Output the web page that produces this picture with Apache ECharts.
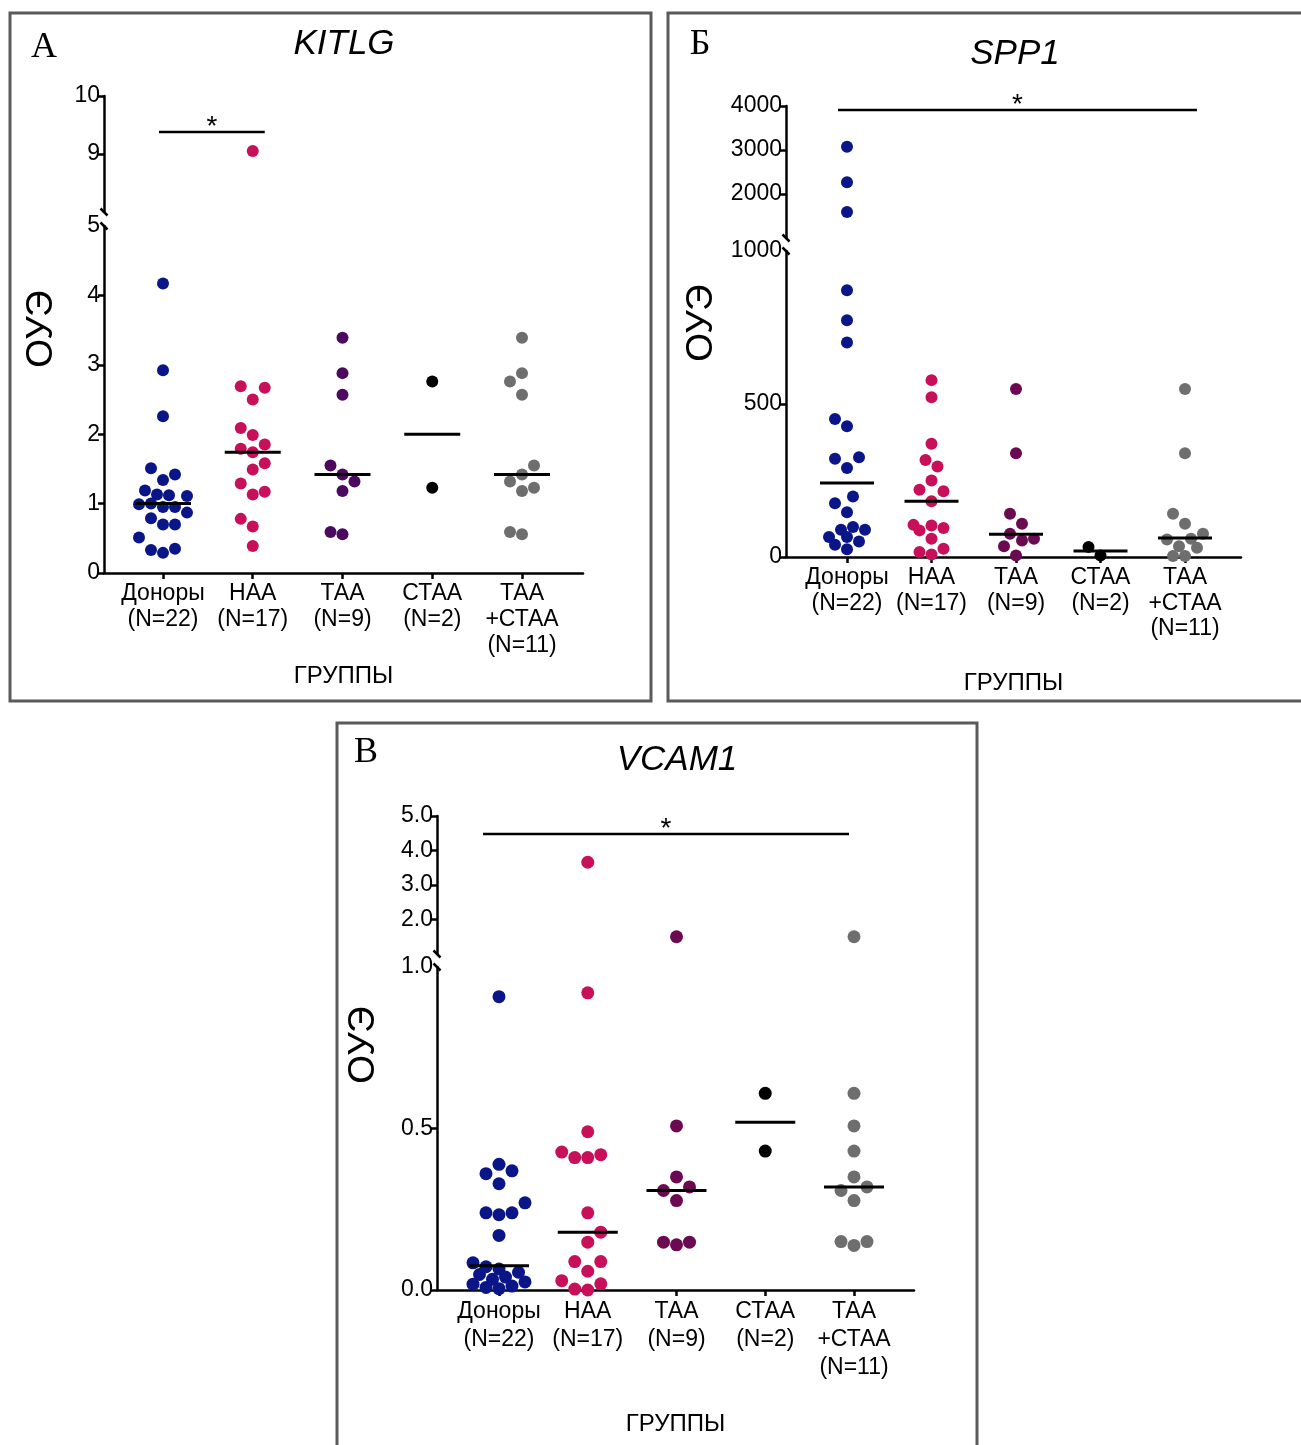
<!DOCTYPE html>
<html><head><meta charset="utf-8">
<script src="https://cdn.jsdelivr.net/npm/echarts@6/dist/echarts.min.js"></script>
<style>html,body{margin:0;padding:0;background:#fff}#c{width:1301px;height:1445px}</style>
</head><body><div id="c"></div>
<script>
// ---------- DATA ----------
const categories = ['Доноры\n(N=22)', 'НАА\n(N=17)', 'ТАА\n(N=9)', 'СТАА\n(N=2)', 'ТАА\n+СТАА\n(N=11)'];

// KITLG
const kitlgDonors = [4.17, 2.92, 2.26, 1.51, 1.42, 1.34, 1.12, 1.11, 1.19, 1.13, 0.95, 0.99, 0.95, 1.0, 0.87, 0.79, 0.70, 0.70, 0.51, 0.29, 0.35, 0.33];
const kitlgNAA = [9.05, 2.67, 2.69, 2.50, 2.09, 1.99, 1.85, 1.74, 1.79, 1.49, 1.58, 1.29, 1.13, 1.17, 0.67, 0.78, 0.39];
const kitlgTAA = [3.39, 2.88, 2.57, 1.42, 1.55, 1.32, 1.18, 0.56, 0.59];
const kitlgSTAA = [2.76, 1.23];
const kitlgTAASTAA = [3.39, 2.88, 2.76, 2.57, 1.55, 1.42, 1.32, 1.18, 1.23, 0.56, 0.59];
const kitlgMedians = [1.0, 1.74, 1.42, 2.0, 1.42];
const kitlgLowerTicks = [0, 1, 2, 3, 4, 5];
const kitlgUpperTicks = [9, 10];
const kitlgSig = [0, 1, 9.38];

// SPP1
const spp1Donors = [3075, 2266, 1591, 872, 774, 701, 451, 427, 326, 321, 291, 198, 176, 146, 98, 89, 89, 65, 65, 51, 40, 25];
const spp1NAA = [578, 522, 370, 317, 296, 250, 220, 215, 182, 103, 95, 105, 87, 60, 8, 16, 27];
const spp1TAA = [549, 339, 109, 141, 60, 76, 54, 35, 5];
const spp1STAA = [5, 33];
const spp1TAASTAA = [549, 339, 141, 109, 76, 57, 60, 35, 30, 3, 3];
const spp1Medians = [242, 182, 74, 20, 62];
const spp1LowerTicks = [0, 500, 1000];
const spp1UpperTicks = [2000, 3000, 4000];
const spp1Sig = [0, 4, 3910];

// VCAM1
const vcamDonors = [0.908, 0.389, 0.369, 0.360, 0.329, 0.270, 0.233, 0.239, 0.239, 0.169, 0.084, 0.072, 0.065, 0.055, 0.048, 0.040, 0.033, 0.025, 0.018, 0.012, 0.008, 0.004];
const vcamNAA = [3.66, 0.92, 0.49, 0.427, 0.41, 0.41, 0.419, 0.239, 0.148, 0.179, 0.058, 0.088, 0.088, 0.0, 0.029, 0.003, 0.019];
const vcamTAA = [1.50, 0.508, 0.35, 0.319, 0.308, 0.277, 0.14, 0.148, 0.148];
const vcamSTAA = [0.609, 0.43];
const vcamTAASTAA = [1.50, 0.609, 0.508, 0.43, 0.35, 0.319, 0.308, 0.277, 0.138, 0.15, 0.15];
const vcamMedians = [0.075, 0.179, 0.308, 0.519, 0.319];
const vcamLowerTicks = [0, 0.5, 1.0];
const vcamUpperTicks = [2, 3, 4, 5];
const vcamSig = [0, 4, 4.48];

// ---------- LAYOUT / STYLE ----------
const FONT = '"Liberation Sans", Arial, sans-serif';
const SERIF = '"Liberation Serif", "Times New Roman", serif';
const BLUE = '#0a1587', RED = '#c8105a', GRAY = '#6e6e6e', BLACK = '#000000';

const panels = [
  { title: 'KITLG', letter: 'А', frame: [10, 13, 641, 688], titlePos: [344, 44], letterPos: [44, 48], yNamePos: [42, 329],
    axisX: 104, axisRight: 583, catX0: 163, catStep: 89.75,
    upper: { top: 96, bottom: 212, min: 8, max: 10 }, lower: { top: 226, bottom: 573, min: 0, max: 5 },
    groups: [kitlgDonors, kitlgNAA, kitlgTAA, kitlgSTAA, kitlgTAASTAA], medians: kitlgMedians,
    lowerTicks: kitlgLowerTicks, upperTicks: kitlgUpperTicks, decimals: 0, sig: kitlgSig, sigExt: [-4, 12],
    colors: [BLUE, RED, '#4b0a5e', BLACK, GRAY], dot: 12, spread: 24, medHalf: 28, catLH: 26, catMargin: 8, nameGap: 91 },
  { title: 'SPP1', letter: 'Б', frame: [668, 13, 660, 688], titlePos: [1015, 54], letterPos: [700, 45], yNamePos: [702, 323],
    axisX: 786, axisRight: 1241, catX0: 847, catStep: 84.5,
    upper: { top: 106, bottom: 238, min: 1000, max: 4000 }, lower: { top: 251, bottom: 557, min: 0, max: 1000 },
    groups: [spp1Donors, spp1NAA, spp1TAA, spp1STAA, spp1TAASTAA], medians: spp1Medians,
    lowerTicks: spp1LowerTicks, upperTicks: spp1UpperTicks, decimals: 0, sig: spp1Sig, sigExt: [-9, 12],
    colors: [BLUE, RED, '#6b0a50', BLACK, GRAY], dot: 12, spread: 23, medHalf: 27, catLH: 25.5, catMargin: 8, nameGap: 114 },
  { title: 'VCAM1', letter: 'В', frame: [337, 723, 640, 760], titlePos: [677, 760], letterPos: [366, 753], yNamePos: [364, 1045],
    axisX: 437, axisRight: 914, catX0: 499, catStep: 88.75,
    upper: { top: 816, bottom: 954, min: 1, max: 5 }, lower: { top: 967, bottom: 1290, min: 0, max: 1 },
    groups: [vcamDonors, vcamNAA, vcamTAA, vcamSTAA, vcamTAASTAA], medians: vcamMedians,
    lowerTicks: vcamLowerTicks, upperTicks: vcamUpperTicks, decimals: 1, sig: vcamSig, sigExt: [-16, -5],
    colors: [BLUE, RED, '#6b0a50', BLACK, GRAY], dot: 13, spread: 26, medHalf: 30, catLH: 28, catMargin: 8, nameGap: 122 }
];

function toPy(P, v) {
  const s = v > P.lower.max ? P.upper : P.lower;
  return s.bottom - (v - s.min) / (s.max - s.min) * (s.bottom - s.top);
}

// deterministic beeswarm with an elliptical exclusion zone and a limited column width
function swarm(P, values, d) {
  const idx = values.map((v, i) => i).sort((a, b) => values[a] - values[b]);
  const placed = [];
  const off = new Array(values.length).fill(0);
  const ax = d * 0.97, ay = d * 1.35;
  const step = d / 2;
  const kmax = Math.floor(P.spread / step);
  let lastSide = 1;
  for (const i of idx) {
    const y = toPy(P, values[i]);
    let best = null, fallback = 0, fallbackScore = -1;
    for (let k = 0; k <= kmax && best === null; k++) {
      const cands = k === 0 ? [0] : [-lastSide * k * step, lastSide * k * step];
      for (const x of cands) {
        let m = Infinity;
        placed.forEach(p => { m = Math.min(m, ((p.x - x) / ax) ** 2 + ((p.y - y) / ay) ** 2); });
        if (m >= 1) { best = x; break; }
        if (m > fallbackScore) { fallbackScore = m; fallback = x; }
      }
    }
    if (best === null) best = fallback;
    if (best !== 0) lastSide = Math.sign(best);
    off[i] = best;
    placed.push({ x: best, y: y });
  }
  return off;
}

const grids = [], xAxes = [], yAxes = [], series = [], graphics = [];
const axisLineStyle = { color: '#000', width: 2.5 };

panels.forEach((P, pi) => {
  const gU = pi * 2, gL = pi * 2 + 1;
  const xmin = (P.axisX - P.catX0) / P.catStep;
  const xmax = (P.axisRight - P.catX0) / P.catStep;
  [P.upper, P.lower].forEach((seg, si) => {
    const isLower = si === 1;
    grids.push({ left: P.axisX, top: seg.top, width: P.axisRight - P.axisX, height: seg.bottom - seg.top,
      containLabel: false, outerBoundsMode: 'none' });
    const gi = grids.length - 1;
    xAxes.push({
      type: 'value', gridIndex: gi, min: xmin, max: xmax, show: isLower,
      axisLine: { show: true, onZero: false, lineStyle: axisLineStyle },
      axisTick: { show: true, customValues: [0, 1, 2, 3, 4], length: 6, lineStyle: axisLineStyle },
      axisLabel: { show: true, customValues: [0, 1, 2, 3, 4], formatter: v => categories[Math.round(v)],
        color: '#000', fontSize: 23, lineHeight: P.catLH, fontFamily: FONT, margin: P.catMargin },
      splitLine: { show: false },
      name: isLower ? 'ГРУППЫ' : '', nameLocation: 'middle', nameGap: P.nameGap,
      nameTextStyle: { color: '#000', fontSize: 24, fontFamily: FONT }
    });
    const ticks = isLower ? P.lowerTicks : P.upperTicks;
    yAxes.push({
      type: 'value', gridIndex: gi, min: seg.min, max: seg.max,
      axisLine: { show: true, onZero: false, lineStyle: axisLineStyle },
      axisTick: { show: true, customValues: isLower ? ticks.slice(0, -1) : ticks, length: 6, lineStyle: axisLineStyle },
      axisLabel: { show: true, customValues: ticks, formatter: v => Number(v).toFixed(P.decimals),
        color: '#000', fontSize: 23, fontFamily: FONT, margin: 4 },
      splitLine: { show: false }
    });
  });

  P.groups.forEach((vals, gi) => {
    const offs = swarm(P, vals, P.dot);
    const up = [], lo = [];
    vals.forEach((v, i) => {
      const pt = [gi + offs[i] / P.catStep, v];
      (v > P.lower.max ? up : lo).push(pt);
    });
    series.push({ type: 'scatter', xAxisIndex: gL, yAxisIndex: gL, data: lo, symbolSize: P.dot,
      itemStyle: { color: P.colors[gi], opacity: 1 }, silent: true, z: 3, clip: false });
    if (up.length) series.push({ type: 'scatter', xAxisIndex: gU, yAxisIndex: gU, data: up, symbolSize: P.dot,
      itemStyle: { color: P.colors[gi], opacity: 1 }, silent: true, z: 3, clip: false });
  });

  series.push({
    type: 'custom', xAxisIndex: gL, yAxisIndex: gL, silent: true, z: 5,
    data: P.medians.map((m, i) => [i, m]),
    renderItem: (params, api) => {
      const c = api.coord([api.value(0), api.value(1)]);
      return { type: 'line', shape: { x1: c[0] - P.medHalf, y1: c[1], x2: c[0] + P.medHalf, y2: c[1] },
        style: { stroke: '#000', lineWidth: 3 } };
    }
  });

  series.push({
    type: 'custom', xAxisIndex: gU, yAxisIndex: gU, silent: true, z: 5,
    data: [P.sig],
    renderItem: (params, api) => {
      const a = api.coord([api.value(0), api.value(2)]);
      const b = api.coord([api.value(1), api.value(2)]);
      const x1 = a[0] + P.sigExt[0], x2 = b[0] + P.sigExt[1];
      return { type: 'group', children: [
        { type: 'line', shape: { x1: x1, y1: a[1], x2: x2, y2: b[1] }, style: { stroke: '#000', lineWidth: 2.5 } },
        { type: 'text', style: { text: '*', x: (x1 + x2) / 2, y: a[1] + 9, align: 'center', verticalAlign: 'bottom',
          font: '28px ' + FONT, fill: '#000' } }
      ] };
    }
  });

  // frame
  graphics.push({ type: 'rect', shape: { x: P.frame[0], y: P.frame[1], width: P.frame[2], height: P.frame[3] },
    style: { fill: 'none', stroke: '#5a5a5a', lineWidth: 3 }, silent: true });
  // title, letter, y name
  graphics.push({ type: 'text', x: P.titlePos[0], y: P.titlePos[1], style: { text: P.title, align: 'center', verticalAlign: 'middle',
    font: 'italic 35px ' + FONT, fill: '#000' } });
  graphics.push({ type: 'text', x: P.letterPos[0], y: P.letterPos[1], style: { text: P.letter, align: 'center', verticalAlign: 'middle',
    font: '36px ' + SERIF, fill: '#000' } });
  graphics.push({ type: 'text', x: P.yNamePos[0], y: P.yNamePos[1], rotation: Math.PI / 2,
    style: { text: 'ОУЭ', align: 'center', verticalAlign: 'middle', font: '37px ' + FONT, fill: '#000' } });
  // axis break marks
  [P.upper.bottom, P.lower.top].forEach(y => {
    graphics.push({ type: 'line', shape: { x1: P.axisX - 3.5, y1: y - 3.5, x2: P.axisX + 3.5, y2: y + 3.5 },
      style: { stroke: '#000', lineWidth: 2.5 }, z: 10 });
  });
});

const chart = echarts.init(document.getElementById('c'), null, { renderer: 'canvas', width: 1301, height: 1445 });
chart.setOption({
  animation: false,
  backgroundColor: '#ffffff',
  grid: grids, xAxis: xAxes, yAxis: yAxes, series: series,
  graphic: { elements: graphics }
});
</script>
</body></html>
